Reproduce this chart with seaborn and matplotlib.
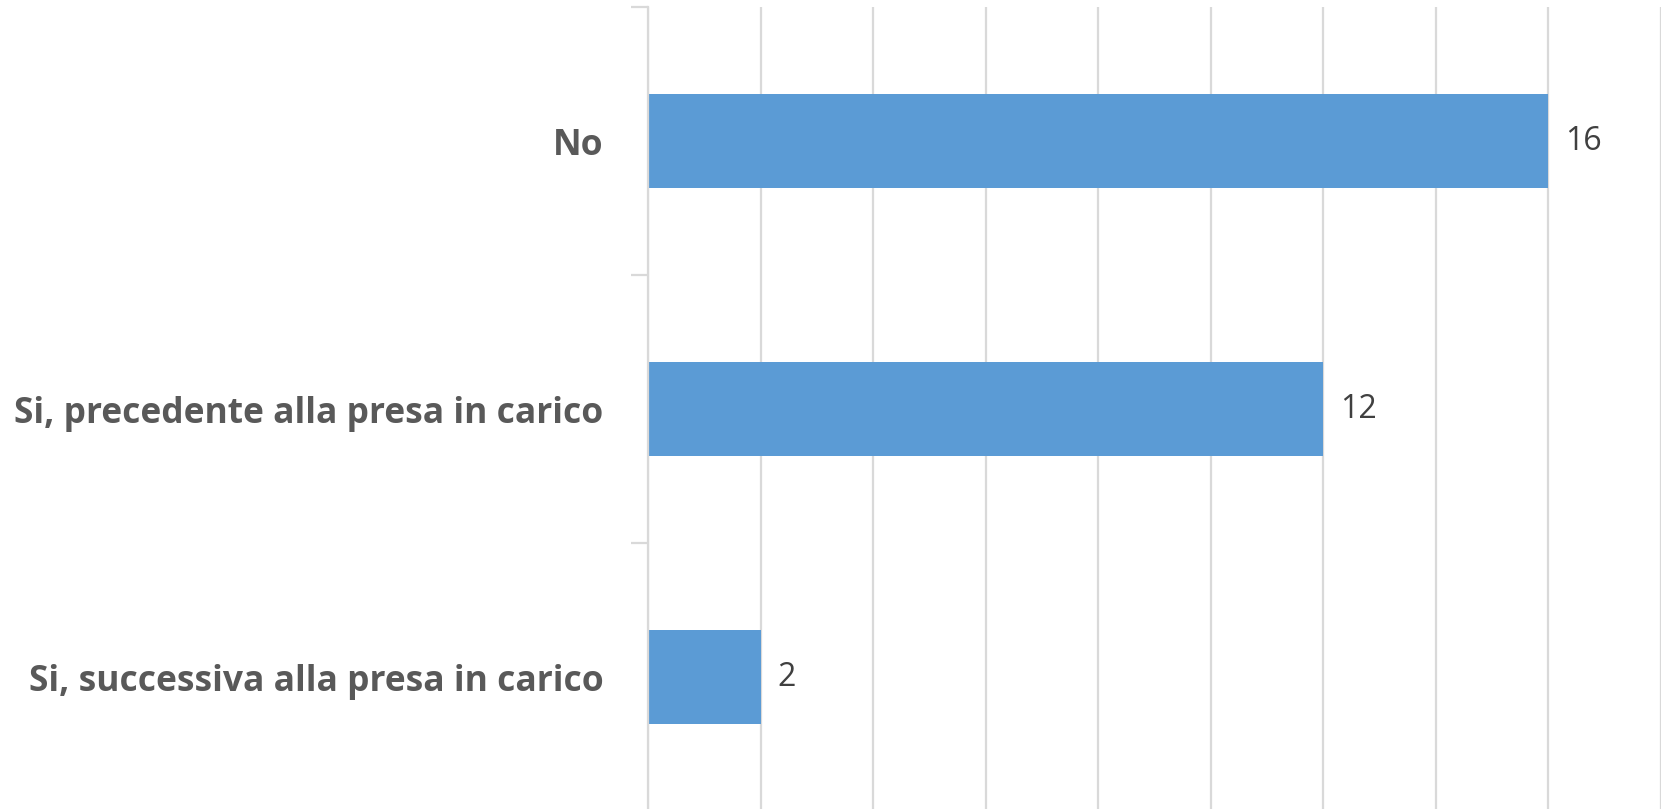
'''
Presa in carico - bar chart orizzontale
'''
import pandas as pd
import numpy as np
import matplotlib.pyplot as plt
import seaborn as sns

categories = ['No',
              'Si, precedente alla presa in carico',
              'Si, successiva alla presa in carico']
values = [16, 12, 2]

df = pd.DataFrame({'categoria': categories, 'n': values})

sns.set_style('white')
plt.rcParams['font.family'] = ['Open Sans', 'DejaVu Sans']

fig = plt.figure(figsize=(16.66, 8.09), dpi=100)
ax = fig.add_axes([648 / 1666, -2 / 809, 1013 / 1666, 804 / 809])

sns.barplot(x='n', y='categoria', data=df, color='#5B9BD5',
            saturation=1, width=0.354, ax=ax, zorder=3, linewidth=0)

ax.set_xlim(0, 18)
ax.set_ylim(2.5, -0.5)
ax.set_xticks(np.arange(0, 19, 2))
ax.set_xticklabels([])
ax.tick_params(axis='x', length=0)
ax.grid(axis='x', color='#d9d9d9', linewidth=1.6, zorder=0)
ax.grid(axis='y', visible=False)

for s in ['top', 'right', 'bottom']:
    ax.spines[s].set_visible(False)
ax.spines['left'].set_color('#d9d9d9')
ax.spines['left'].set_linewidth(1.6)
ax.spines['left'].set_zorder(4)

# tick marks at category boundaries, labels in the middle
ax.set_yticks([-0.5, 0.5, 1.5, 2.5], minor=True)
ax.tick_params(axis='y', which='minor', left=True, length=12, width=1.6,
               color='#d9d9d9')
ax.tick_params(axis='y', which='major', left=False, length=0, pad=32,
               labelsize=25.5, labelcolor='#595959')
for lab in ax.get_yticklabels():
    lab.set_fontweight('bold')
ax.set_xlabel('')
ax.set_ylabel('')

for i, v in enumerate(values):
    ax.text(v + 0.3, i, str(v), va='center', ha='left',
            fontsize=23, color='#404040')

plt.savefig('out.png', dpi=100)
